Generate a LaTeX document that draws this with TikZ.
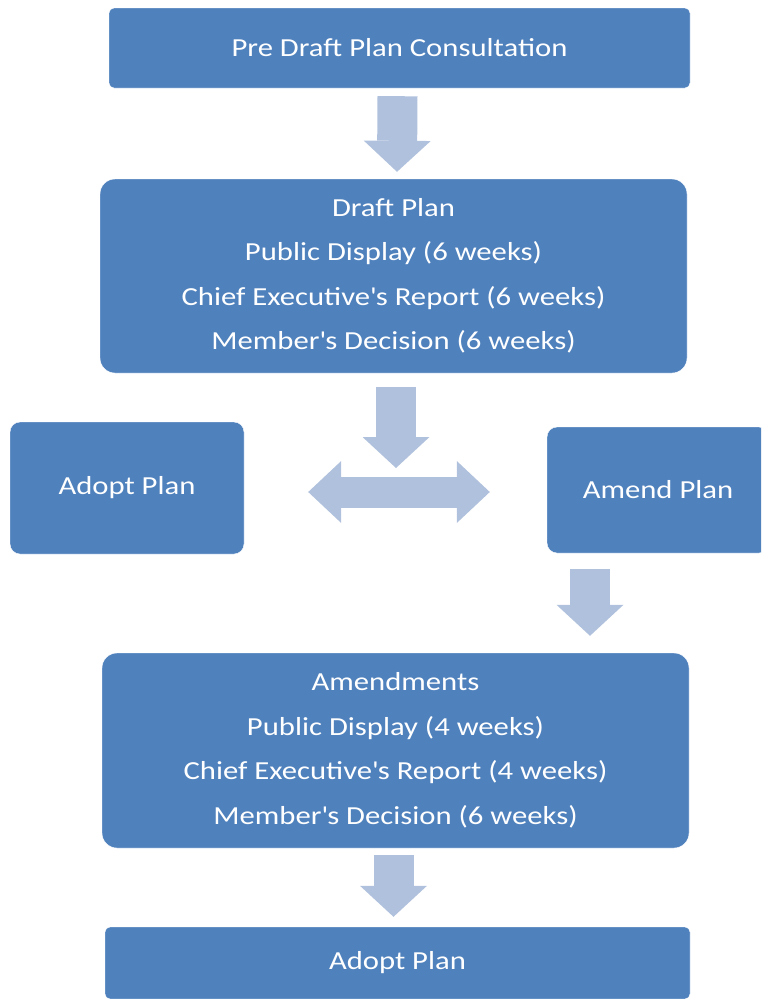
\documentclass[tikz,border=0pt]{standalone}
\usepackage{fontspec}
\setmainfont{Carlito}[FakeStretch=1.18]
\usepackage{tikz}
\usetikzlibrary{
    arrows.meta,
    calc,
    positioning,
}
\definecolor{boxblue}{HTML}{4F81BD}
\definecolor{arrowblue}{HTML}{B0C1DD}
\tikzset{
    planbox/.style={
        fill=boxblue, draw=white, thin, text=white, align=center,
        inner sep=0pt, font=\fontsize{26}{44.5}\selectfont,
    },
}
\newcommand{\apos}{\textquotesingle}

\begin{document}
\begin{tikzpicture}[
    x=1pt, y=-1pt,
    fat arrow/.style={draw=arrowblue, line width=40pt,
        -{Triangle[width=67pt, length=31pt, line width=0pt]}},
    fat double/.style={draw=arrowblue, line width=31pt,
        {Triangle[width=62pt, length=33pt, line width=0pt]}-{Triangle[width=62pt, length=33pt, line width=0pt]}},
    small box/.style={planbox, rounded corners=5pt},
    big box/.style={planbox, rounded corners=15pt},
    side box/.style={planbox, rounded corners=10pt}
    ]

    \useasboundingbox (0,0) rectangle (761,999);
    \clip (0,0) rectangle (761,999);

    \node[small box, minimum width=581pt, minimum height=80pt] (pre) at (399.5,48)
        {Pre Draft Plan Consultation};
    \node[big box, minimum width=587pt, minimum height=194pt] (draft) at (393.5,276)
        {Draft Plan\\Public Display (6 weeks)\\Chief Executive\apos s Report (6 weeks)\\Member\apos s Decision (6 weeks)};

    \node[side box, minimum width=234pt, minimum height=132pt] (adopt) at (127,488) {Adopt Plan};
    \node[side box, minimum width=222pt, minimum height=126pt] (amend) at (658,490) {Amend Plan};
    \coordinate (hub) at (396,461);

    \node[big box, minimum width=587pt, minimum height=195pt] (amends) at (395.5,750.5)
        {Amendments\\Public Display (4 weeks)\\Chief Executive\apos s Report (4 weeks)\\Member\apos s Decision (6 weeks)};
    \node[small box, minimum width=585pt, minimum height=72pt] (final) at (397.5,963) {Adopt Plan};

    % block arrows between the boxes
    \draw[fat arrow] ($(pre.south)+(-2,8)$) -- ($(draft.north)+(3.5,-7)$);
    \draw[fat arrow] ($(draft.south)+(2.5,14)$) -- ([yshift=-7pt]hub);
    \draw[fat double] ($(adopt.east)+(64,4)$) -- ($(amend.west)+(-57,2)$);
    \draw[fat arrow] ($(amend.south)+(-68,16)$) -- ($(amends.north)+(194.5,-17)$);
    \draw[fat arrow] ($(amends.south)+(-2,7)$) -- ($(final.north)+(-4,-10)$);

\end{tikzpicture}
\end{document}
